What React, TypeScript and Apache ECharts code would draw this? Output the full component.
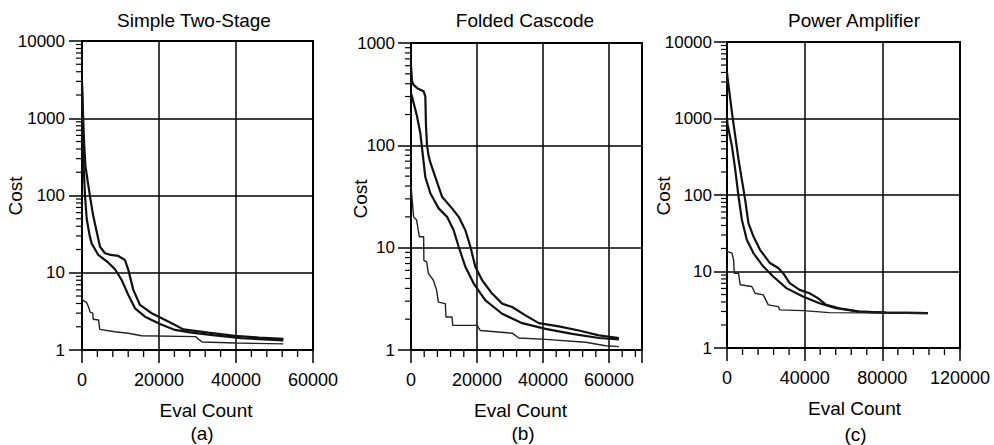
import React, { useEffect, useRef } from 'react';
import * as echarts from 'echarts';

// ---------- data ----------
const panelTitles = ['Simple Two-Stage', 'Folded Cascode', 'Power Amplifier'];
const panelLetters = ['(a)', '(b)', '(c)'];
const xAxisName = 'Eval Count';
const yAxisName = 'Cost';
const xMax = [60000, 70000, 120000];
const xMajor = [20000, 20000, 40000];
const xMinor = [4000, 4000, 8000];
const xLabelMax = [60000, 60000, 120000];
const yMax = [10000, 1000, 10000];
const logMinorMultipliers = [2, 3, 4, 5, 6, 7, 8, 9];

const twoStageUpper: [number, number][] = [
  [0, 3000], [300, 1000], [600, 420], [900, 240], [1500, 150], [2100, 96], [2900, 55], [3700, 36],
  [4680, 21.7], [5970, 17.9], [7500, 17], [9430, 16.5], [11170, 14.6], [12030, 10.9], [13330, 6.0],
  [15060, 3.83], [18100, 2.99], [20700, 2.57], [23300, 2.22], [26300, 1.85], [32800, 1.68],
  [39700, 1.52], [46000, 1.45], [52300, 1.39],
];
const twoStageMiddle: [number, number][] = [
  [0, 2500], [200, 800], [400, 250], [800, 96], [1220, 50], [2000, 30], [2500, 24], [4240, 17],
  [6840, 13.5], [8570, 11.1], [10300, 8.06], [12030, 5.15], [13770, 3.46], [16360, 2.7],
  [20260, 2.17], [24160, 1.82], [28500, 1.68], [34500, 1.55], [41500, 1.42], [52300, 1.33],
];
const twoStageLower: [number, number][] = [
  [0, 4.5], [1200, 4.1], [1700, 3.6], [2100, 3.1], [2800, 3.0], [2900, 2.5], [4300, 2.45],
  [4600, 1.85], [8500, 1.72], [12000, 1.65], [15500, 1.53], [29500, 1.49], [30500, 1.35],
  [31200, 1.27], [40000, 1.23], [52300, 1.2],
];

const foldedUpper: [number, number][] = [
  [0, 600], [300, 430], [700, 392], [2000, 360], [3830, 337], [4340, 301], [4550, 153], [4850, 101],
  [5300, 80], [5860, 68], [7370, 49], [9400, 31.5], [12440, 24.2], [14450, 20], [16480, 14.8],
  [18000, 10.2], [19500, 6.5], [21550, 4.8], [24580, 3.56], [27620, 2.84], [30650, 2.63],
  [34690, 2.18], [38730, 1.83], [44800, 1.7], [50870, 1.55], [56940, 1.39], [63000, 1.31],
];
const foldedMiddle: [number, number][] = [
  [0, 320], [300, 301], [1820, 192], [2820, 132], [3520, 84], [4340, 49], [5860, 34], [8380, 24.2],
  [10930, 20], [12930, 14.8], [14450, 10.2], [16480, 6.5], [19000, 4.46], [22550, 3.06],
  [27620, 2.26], [33690, 1.83], [40760, 1.61], [48860, 1.44], [56940, 1.31], [63000, 1.27],
];
const foldedLower: [number, number][] = [
  [0, 40], [300, 31], [800, 20], [1700, 18.6], [2520, 12.8], [3830, 12.8], [3900, 7.5], [4750, 7.25],
  [5250, 5.6], [6770, 4.8], [7770, 3.83], [8290, 2.94], [10400, 2.84], [10600, 2.1], [12440, 2.1],
  [12640, 1.74], [20030, 1.74], [21030, 1.55], [30650, 1.46], [32660, 1.31], [40760, 1.27],
  [52900, 1.19], [58970, 1.1], [63000, 1.08],
];

const powerUpper: [number, number][] = [
  [0, 4000], [300, 3430], [2550, 1190], [4240, 588], [5930, 291], [7650, 159], [9350, 87],
  [11030, 43], [13590, 28.8], [17000, 19.2], [22100, 12.9], [26400, 11.1], [28900, 9.5],
  [32300, 7.05], [37400, 5.75], [42500, 5.2], [46800, 4.48], [51100, 3.66], [57900, 3.31],
  [68100, 2.99], [81700, 2.9], [103500, 2.85],
];
const powerMiddle: [number, number][] = [
  [0, 1000], [300, 837], [2550, 435], [4240, 215], [5930, 96], [7650, 47.6], [10200, 26],
  [13590, 17.4], [18700, 11.6], [23800, 8.6], [30600, 6.06], [39100, 4.7], [47600, 3.85],
  [56100, 3.31], [68100, 2.99], [81700, 2.9], [103500, 2.85],
];
const powerLower: [number, number][] = [
  [0, 18.3], [2550, 17.4], [3400, 14.2], [3750, 9.5], [5930, 9.5], [6800, 6.7], [12770, 6.36],
  [14470, 5.2], [18700, 4.95], [21250, 3.66], [26400, 3.48], [27200, 3.15], [39100, 3.08],
  [52700, 2.9], [103500, 2.85],
];

const panelSeries = [
  [twoStageUpper, twoStageMiddle, twoStageLower],
  [foldedUpper, foldedMiddle, foldedLower],
  [powerUpper, powerMiddle, powerLower],
];

// ---------- layout / style ----------
const FONT = '"Liberation Sans", Arial, Helvetica, sans-serif';
const grids = [
  { left: 82, top: 41, width: 231, height: 309 },
  { left: 411, top: 43, width: 231, height: 307 },
  { left: 727, top: 42, width: 233, height: 306 },
];
const yLabelMargin = [17, 16, 15];
const titlePos = [[194, 20], [525, 20], [854, 20]];
const costPos = [[15.5, 196], [360, 199], [663, 196]];
const evalPos = [[206, 410.5], [520.5, 410], [854.5, 408.5]];
const letterPos = [[202, 433], [523, 433], [855.5, 434]];

function buildOption() {
  const lineStyle = { color: '#000', width: 1.5 };
  const xAxis: any[] = [];
  const yAxis: any[] = [];
  const series: any[] = [];

  grids.forEach((_g, i) => {
    xAxis.push({
      type: 'value', gridIndex: i, position: 'bottom', min: 0, max: xMax[i], interval: xMajor[i],
      axisLine: { show: true, onZero: false, lineStyle: { color: '#000', width: 2 } },
      axisTick: { show: true, length: 13, lineStyle },
      axisLabel: {
        fontSize: 18, color: '#000', fontFamily: FONT, margin: 21,
        formatter: (v: number) => (v > xLabelMax[i] ? '' : String(v)),
      },
      splitLine: { show: true, lineStyle },
    });
    yAxis.push({
      type: 'log', logBase: 10, gridIndex: i, min: 1, max: yMax[i],
      axisLine: { show: true, onZero: false, lineStyle: { color: '#000', width: 2 } },
      axisTick: { show: true, length: 13, lineStyle },
      axisLabel: {
        fontSize: 17, color: '#000', fontFamily: FONT, margin: yLabelMargin[i],
        formatter: (v: number) => String(Math.round(v)),
      },
      splitLine: { show: true, lineStyle },
    });

    const [upper, middle, lower] = panelSeries[i];
    [upper, middle].forEach((d) => {
      series.push({
        type: 'line', xAxisIndex: i, yAxisIndex: i, data: d, symbol: 'none',
        lineStyle: { color: '#111', width: 2.2 }, z: 5,
      });
    });
    series.push({
      type: 'line', xAxisIndex: i, yAxisIndex: i, data: lower, symbol: 'none',
      lineStyle: { color: '#222', width: 1.4 }, z: 5,
    });
  });

  return {
    animation: false,
    backgroundColor: '#fff',
    grid: grids.map((g) => ({ ...g, show: true, borderColor: '#000', borderWidth: 2, backgroundColor: 'transparent' })),
    xAxis,
    yAxis,
    series,
  };
}

const finite = (a: any, b: number) => (typeof a === 'number' && isFinite(a) ? a : b);

function buildGraphic(chart: echarts.ECharts) {
  const graphic: any[] = [];
  grids.forEach((g, i) => {
    const xPix = (v: number) =>
      finite(chart.convertToPixel({ xAxisIndex: i } as any, v), g.left + (v / xMax[i]) * g.width);
    const yPix = (v: number) =>
      finite(
        chart.convertToPixel({ yAxisIndex: i } as any, v),
        g.top + g.height - (Math.log10(v) / Math.log10(yMax[i])) * g.height,
      );
    const x0 = xPix(0);
    const yBottom = yPix(1);

    // log minor ticks on the y axis
    const decades = Math.round(Math.log10(yMax[i]));
    for (let d = 0; d < decades; d++) {
      logMinorMultipliers.forEach((m) => {
        const y = yPix(m * Math.pow(10, d));
        graphic.push({
          type: 'rect', silent: true, z: 10,
          shape: { x: x0 - 6, y: y - 0.6, width: 6, height: 1.2 },
          style: { fill: '#000' },
        });
      });
    }
    // linear minor ticks on the x axis
    for (let v = xMinor[i]; v < xMax[i]; v += xMinor[i]) {
      if (v % xMajor[i] === 0) continue;
      const x = xPix(v);
      graphic.push({
        type: 'rect', silent: true, z: 10,
        shape: { x: x - 0.65, y: yBottom, width: 1.3, height: 7 },
        style: { fill: '#000' },
      });
    }

    const txt = (text: string, pos: number[], size: number, rotation = 0) => ({
      type: 'text', x: pos[0], y: pos[1], rotation,
      style: { text, fontSize: size, fontFamily: FONT, fill: '#000', align: 'center', verticalAlign: 'middle' },
    });
    graphic.push(txt(panelTitles[i], titlePos[i], 19));
    graphic.push(txt(yAxisName, costPos[i], 19, Math.PI / 2));
    graphic.push(txt(xAxisName, evalPos[i], 19));
    graphic.push(txt(panelLetters[i], letterPos[i], 19));
  });
  return graphic;
}

export default function App() {
  const ref = useRef<HTMLDivElement>(null);
  useEffect(() => {
    if (!ref.current) return;
    const chart = echarts.init(ref.current, undefined, { renderer: 'svg' });
    chart.setOption(buildOption() as any);
    chart.setOption({ graphic: buildGraphic(chart) } as any);
    return () => chart.dispose();
  }, []);
  return (
    <div
      ref={ref}
      style={{ position: 'fixed', left: 0, top: 0, width: 994, height: 445, background: '#fff' }}
    />
  );
}
